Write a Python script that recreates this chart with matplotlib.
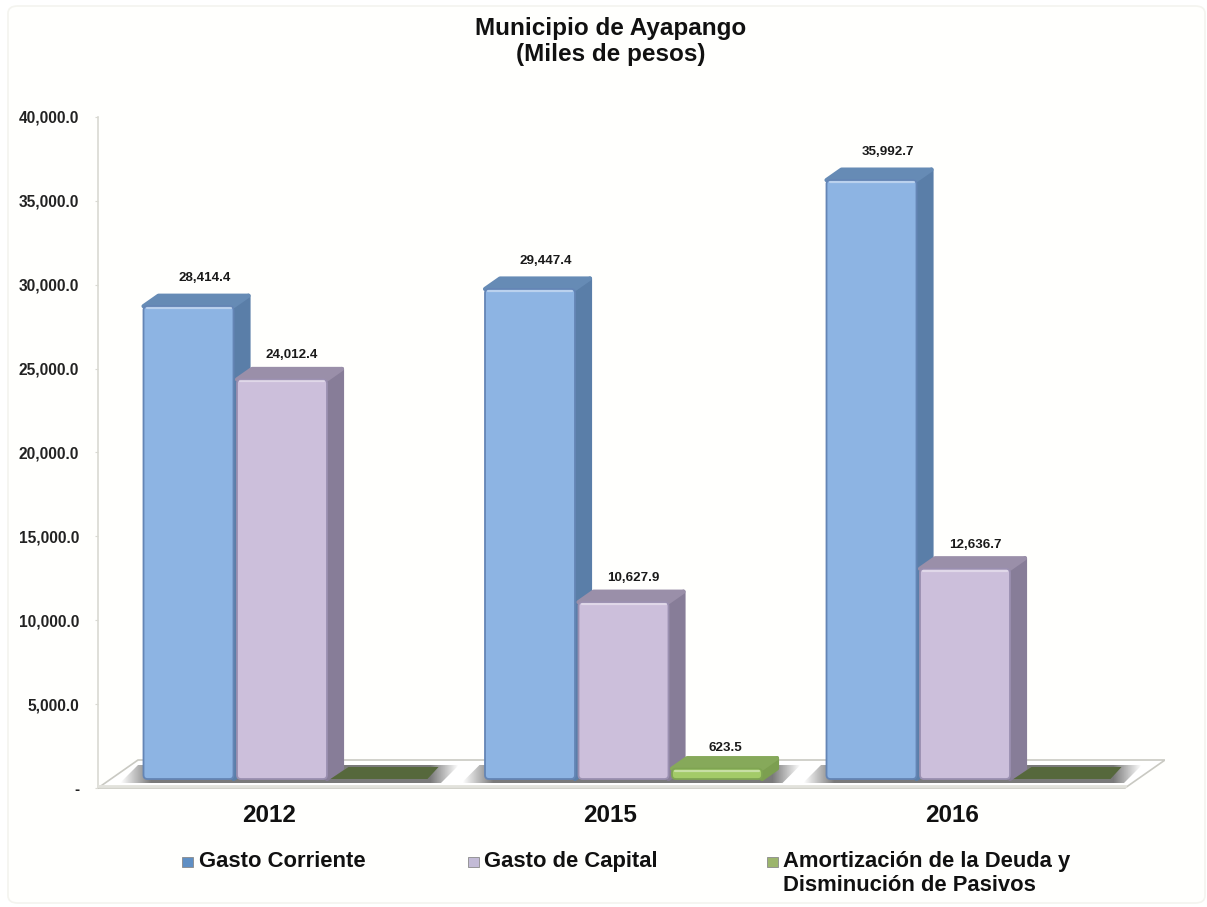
import numpy as np
import matplotlib
matplotlib.use('Agg')
import matplotlib.pyplot as plt
from matplotlib.patches import FancyBboxPatch, Polygon, Rectangle

plt.rcParams['font.family'] = ['Liberation Sans', 'DejaVu Sans']
plt.rcParams['font.weight'] = 'bold'

# data
years = ['2012', '2015', '2016']
gasto_corriente = [28414.4, 29447.4, 35992.7]
gasto_capital = [24012.4, 10627.9, 12636.7]
amortizacion = [0, 623.5, 0]
value_labels = [['28,414.4', '29,447.4', '35,992.7'],
                ['24,012.4', '10,627.9', '12,636.7'],
                [None, '623.5', None]]
tick_values = [0, 5000, 10000, 15000, 20000, 25000, 30000, 35000, 40000]
tick_labels = ['-', '5,000.0', '10,000.0', '15,000.0', '20,000.0',
               '25,000.0', '30,000.0', '35,000.0', '40,000.0']
legend_names = ['Gasto Corriente', 'Gasto de Capital',
                'Amortización de la Deuda y\nDisminución de Pasivos']

W, H = 1207, 907
# style per series: front, side, top, outline
styles = [('#8db4e3', '#5a7ea8', '#668bb5', '#6485b5'),
          ('#ccbfdb', '#877d98', '#9a8fa9', '#9a8fb0'),
          ('#a3cb68', '#7c9f50', '#86a95a', '#7fa552')]
label_dx = [16, 10, 8]
label_dy = [28, 24, 21]
legend_swatch = ['#5f8fc4', '#c3bbd6', '#9cb56c']


def add_axes_px(fig, left, right, top, bottom):
    return fig.add_axes([left / W, 1 - bottom / H, (right - left) / W, (bottom - top) / H])


fig = plt.figure(figsize=(W / 100, H / 100), dpi=100, facecolor='white')

# thin panel border, kept behind the axes
fig.add_artist(FancyBboxPatch((8 / W, 4 / H), (W - 10) / W, (H - 10) / H,
                              boxstyle='round,pad=0,rounding_size=0.008',
                              transform=fig.transFigure, fc='#fffffd', ec='#f4f4ef', lw=1.2, zorder=-1))

# value axis
ax = add_axes_px(fig, 98, 1165, 117, 788)
ax.patch.set_alpha(0)
ax.set_ylim(0, 40000)
ax.set_xlim(0, 1)
ax.set_yticks(tick_values)
ax.set_yticklabels(tick_labels, fontsize=11.2, color='#222222')
ax.set_xticks([])
ax.tick_params(axis='y', length=2.5, color='#d9d9d2', pad=11)
for s in ['top', 'right', 'bottom']:
    ax.spines[s].set_visible(False)
ax.spines['left'].set_color('#d9d9d2')
ax.spines['left'].set_linewidth(1.2)

# bars live in their own axes since the 3d floor lifts them off the value axis
px_per_val = 0.01664
px_per_cat = 341.5
x0_px, base_px = 282, 779
ax3 = add_axes_px(fig, 98, 1165, 100, 800)
ax3.patch.set_alpha(0)
ax3.axis('off')
ax3.set_xlim((98 - x0_px) / px_per_cat, (1165 - x0_px) / px_per_cat)
ax3.set_ylim((base_px - 800) / px_per_val, (base_px - 100) / px_per_val)

xu = 1 / px_per_cat
yu = 1 / px_per_val
aspect = yu / xu
depth_x = 15 * xu
depth_y = 10.5 * yu
bar_w = 90 * xu
step = 93.5 * xu

# floor
x_l, x_r = ax3.get_xlim()
floor = Polygon([(x_l, -9 * yu), (x_r - 40 * xu, -9 * yu), (x_r, 19 * yu), (x_l + 40 * xu, 19 * yu)],
                closed=True, fc='white', ec='#c9c9c2', lw=1.2, zorder=1)
ax3.add_patch(floor)
ax3.plot([x_l, x_r - 40 * xu], [-7 * yu, -7 * yu], color='#e2e2dc', lw=2, zorder=1.1)

# soft shadows on the floor, behind each group
shadow = np.zeros((1, 256, 4))
shadow[..., :3] = 0.42
ramp = np.ones(256)
ramp[:24] = np.linspace(0, 1, 24)
ramp[-22:] = np.linspace(1, 0, 22)
shadow[..., 3] = ramp * 0.9
for i in range(len(years)):
    left_s, right_s = i - 162 * xu, i + 177 * xu
    im = ax3.imshow(shadow, extent=[left_s, right_s, -4 * yu, 14 * yu], aspect='auto',
                    zorder=1.2, interpolation='bilinear')
    clip = Polygon([(left_s, -4 * yu), (right_s - 18 * xu, -4 * yu), (right_s, 14 * yu), (left_s + 18 * xu, 14 * yu)],
                   closed=True, transform=ax3.transData)
    im.set_clip_path(clip)
ax3.set_xlim(x_l, x_r)
ax3.set_ylim((base_px - 800) / px_per_val, (base_px - 100) / px_per_val)

all_series = [gasto_corriente, gasto_capital, amortizacion]
for s, series in enumerate(all_series):
    front, side, top, outline = styles[s]
    z = 3 + s
    for i, v in enumerate(series):
        xc = i + (s - 1) * step
        left, right = xc - bar_w / 2, xc + bar_w / 2
        if v == 0:
            # empty series: only the flat dark footprint is visible
            ax3.add_patch(Polygon([(left, 0), (right + 7 * xu, 0),
                                   (right + 18 * xu, 12 * yu), (left + 18 * xu, 12 * yu)],
                                  closed=True, fc='#56683c', ec='none', zorder=z))
            continue
        ax3.add_patch(Polygon([(right, 0), (right + depth_x, depth_y),
                               (right + depth_x, v + depth_y), (right, v)],
                              closed=True, fc=side, ec=side, lw=3, joinstyle='round', zorder=z))
        ax3.add_patch(Polygon([(left, v), (right, v), (right + depth_x, v + depth_y),
                               (left + depth_x, v + depth_y)],
                              closed=True, fc=top, ec=top, lw=3, joinstyle='round', zorder=z))
        ax3.add_patch(FancyBboxPatch((left, 0), bar_w, v,
                                     boxstyle='round,pad=0,rounding_size=%f' % (4 * xu),
                                     mutation_aspect=aspect, fc=front, ec=outline, lw=1.3, zorder=z + 0.1))
        # lighter bevel along the top of the front face
        ax3.plot([left + 3 * xu, right - 3 * xu], [v - 2 * yu, v - 2 * yu],
                 color='white', alpha=0.4, lw=1.6, zorder=z + 0.2, solid_capstyle='round')
        ax3.text(xc + label_dx[s] * xu, v + label_dy[s] * yu, value_labels[s][i], ha='center', va='center',
                 fontsize=9.6, color='#1a1a1a', zorder=10)

# year labels
for i, y in enumerate(years):
    ax3.text(i - 13 * xu, -36 * yu, y, ha='center', va='center', fontsize=17.5, color='#111111',
             clip_on=False)

# title
fig.text(611 / W, 1 - 28 / H, 'Municipio de Ayapango', ha='center', va='center', fontsize=17.5, color='#111111')
fig.text(611 / W, 1 - 55 / H, '(Miles de pesos)', ha='center', va='center', fontsize=17.5, color='#111111')

# legend, laid out by hand because the last entry wraps to two lines
legend_x = [199, 484, 783]
legend_y = 862
swatch_x = [182, 468, 767]
for name, tx, sx, c in zip(legend_names, legend_x, swatch_x, legend_swatch):
    fig.add_artist(Rectangle((sx / W, 1 - (legend_y + 5) / H), 11 / W, 10 / H, transform=fig.transFigure,
                             fc=c, ec='#8a8a8a', lw=0.6))
    fig.text(tx / W, 1 - (legend_y - 11) / H, name, ha='left', va='top', fontsize=15.8, color='#111111',
             linespacing=1.2)

fig.savefig('out.png', dpi=100)
